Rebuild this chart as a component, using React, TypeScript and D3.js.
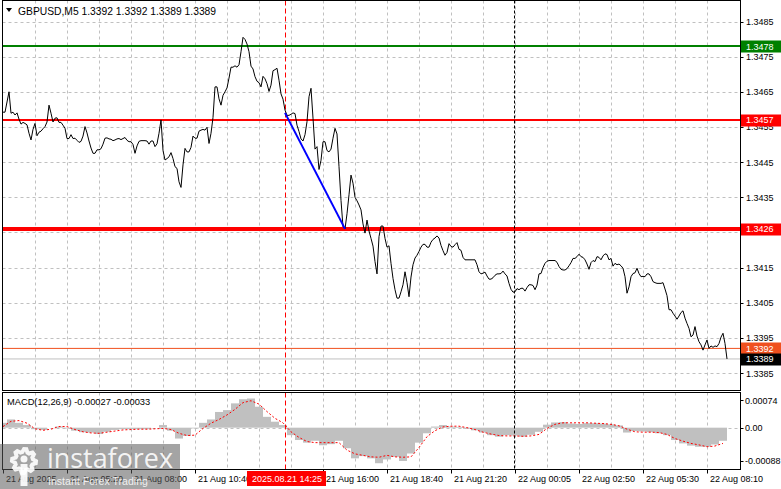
import React from 'react';
import * as d3 from 'd3';

// ---- DATA ----
const symbolTitle = 'GBPUSD,M5  1.3392 1.3392 1.3389 1.3389';
const macdTitle = 'MACD(12,26,9) -0.00027 -0.00033';

// close price per 5-minute bar
const closes = [
  1.34592, 1.34592, 1.34621, 1.34650, 1.34589, 1.34592, 1.34584, 1.34590, 1.34572, 1.34558,
  1.34563, 1.34560, 1.34556, 1.34532, 1.34513, 1.34543, 1.34560, 1.34525, 1.34535, 1.34538,
  1.34545, 1.34551, 1.34564, 1.34612, 1.34589, 1.34564, 1.34575, 1.34576, 1.34563, 1.34563,
  1.34555, 1.34546, 1.34517, 1.34517, 1.34528, 1.34517, 1.34518, 1.34512, 1.34506, 1.34509,
  1.34524, 1.34551, 1.34533, 1.34510, 1.34490, 1.34475, 1.34475, 1.34485, 1.34485, 1.34488,
  1.34501, 1.34518, 1.34519, 1.34516, 1.34515, 1.34511, 1.34513, 1.34516, 1.34517, 1.34514,
  1.34517, 1.34520, 1.34512, 1.34508, 1.34508, 1.34500, 1.34475, 1.34496, 1.34509, 1.34511,
  1.34511, 1.34511, 1.34510, 1.34501, 1.34510, 1.34510, 1.34494, 1.34502, 1.34532, 1.34570,
  1.34483, 1.34456, 1.34460, 1.34465, 1.34477, 1.34460, 1.34437, 1.34432, 1.34394, 1.34378,
  1.34442, 1.34489, 1.34479, 1.34479, 1.34492, 1.34524, 1.34518, 1.34518, 1.34538, 1.34541,
  1.34543, 1.34541, 1.34549, 1.34503, 1.34532, 1.34577, 1.34664, 1.34664, 1.34630, 1.34612,
  1.34640, 1.34650, 1.34661, 1.34689, 1.34720, 1.34720, 1.34724, 1.34720, 1.34727, 1.34764,
  1.34805, 1.34799, 1.34786, 1.34764, 1.34723, 1.34715, 1.34693, 1.34680, 1.34676, 1.34664,
  1.34694, 1.34687, 1.34673, 1.34651, 1.34669, 1.34710, 1.34713, 1.34717, 1.34683, 1.34644,
  1.34629, 1.34598, 1.34583, 1.34583, 1.34586, 1.34590, 1.34588, 1.34555, 1.34537, 1.34516,
  1.34510, 1.34528, 1.34565, 1.34636, 1.34660, 1.34575, 1.34487, 1.34494, 1.34429, 1.34455,
  1.34508, 1.34508, 1.34483, 1.34479, 1.34487, 1.34518, 1.34546, 1.34530, 1.34437, 1.34341,
  1.34266, 1.34260, 1.34303, 1.34357, 1.34413, 1.34390, 1.34350, 1.34340, 1.34328, 1.34314,
  1.34274, 1.34248, 1.34285, 1.34254, 1.34233, 1.34211, 1.34167, 1.34132, 1.34238, 1.34268,
  1.34268, 1.34233, 1.34208, 1.34212, 1.34162, 1.34119, 1.34087, 1.34063, 1.34063, 1.34081,
  1.34101, 1.34138, 1.34107, 1.34067, 1.34123, 1.34158, 1.34177, 1.34185, 1.34196, 1.34208,
  1.34216, 1.34216, 1.34208, 1.34208, 1.34222, 1.34230, 1.34234, 1.34240, 1.34234, 1.34213,
  1.34198, 1.34185, 1.34193, 1.34218, 1.34210, 1.34208, 1.34215, 1.34221, 1.34202, 1.34199,
  1.34179, 1.34172, 1.34172, 1.34172, 1.34172, 1.34172, 1.34172, 1.34158, 1.34138, 1.34132,
  1.34134, 1.34137, 1.34126, 1.34117, 1.34117, 1.34121, 1.34128, 1.34132, 1.34132, 1.34133,
  1.34140, 1.34132, 1.34126, 1.34105, 1.34088, 1.34080, 1.34081, 1.34090, 1.34087, 1.34091,
  1.34091, 1.34083, 1.34093, 1.34101, 1.34101, 1.34099, 1.34087, 1.34100, 1.34132, 1.34133,
  1.34150, 1.34162, 1.34168, 1.34170, 1.34170, 1.34170, 1.34170, 1.34165, 1.34153, 1.34145,
  1.34143, 1.34143, 1.34147, 1.34155, 1.34164, 1.34176, 1.34176, 1.34181, 1.34188, 1.34181,
  1.34179, 1.34172, 1.34160, 1.34145, 1.34164, 1.34170, 1.34167, 1.34181, 1.34179, 1.34172,
  1.34183, 1.34189, 1.34187, 1.34172, 1.34176, 1.34154, 1.34162, 1.34158, 1.34160, 1.34155,
  1.34148, 1.34124, 1.34077, 1.34095, 1.34124, 1.34133, 1.34135, 1.34148, 1.34133, 1.34124,
  1.34125, 1.34124, 1.34132, 1.34132, 1.34124, 1.34110, 1.34107, 1.34105, 1.34105, 1.34105,
  1.34107, 1.34089, 1.34070, 1.34030, 1.34030, 1.34020, 1.34012, 1.34003, 1.34012, 1.34022,
  1.34027, 1.34006, 1.33991, 1.33977, 1.33953, 1.33958, 1.33982, 1.33955, 1.33939, 1.33930,
  1.33915, 1.33930, 1.33944, 1.33920, 1.33927, 1.33923, 1.33927, 1.33925, 1.33934, 1.33952,
  1.33963, 1.33934, 1.33890,
];

// MACD main (histogram) and signal, one value every 4 bars
const macdMain = [
  0.00013, 0.00022, 0.00013, 0.00007, -0.00004, -0.00006, 0.0, 0.00003, -0.00002, -0.00008,
  -0.00012, -0.00013, -0.00017, -0.00011, -0.00006, -0.00004, -0.00004, -0.00004, -0.00004, 0.0,
  0.00007, -0.00008, -0.00029, -0.00022, -0.00002, 0.00013, 0.00022, 0.00042, 0.00047, 0.00065,
  0.00076, 0.00078, 0.00056, 0.00029, 0.00016, 0.00007, -0.00020, -0.00033, -0.00040, -0.00035,
  -0.00047, -0.00044, -0.00035, -0.00055, -0.00082, -0.00076, -0.00082, -0.00095, -0.00085, -0.00078,
  -0.00089, -0.00069, -0.00040, -0.00015, 0.00003, 0.00007, 0.00003, 0.00002, -0.00003, -0.00007,
  -0.00013, -0.00020, -0.00024, -0.00020, -0.00021, -0.00024, -0.00019, -0.00011, 0.00008, 0.00014,
  0.00015, 0.00011, 0.00010, 0.00012, 0.00012, 0.00011, 0.00009, 0.00006, -0.00013, -0.00009,
  -0.00010, -0.00012, -0.00015, -0.00020, -0.00033, -0.00042, -0.00048, -0.00051, -0.00051, -0.00045,
  -0.00035,
];
const macdSignal = [
  0.00003, 0.00017, 0.00019, 0.00012, -0.00003, -0.00007, -0.00004, 0.00003, 0.00003, -0.00005,
  -0.00011, -0.00014, -0.00015, -0.00012, -0.00009, -0.00006, -0.00005, -0.00004, -0.00004, -0.00003,
  -0.00002, -0.00005, -0.00015, -0.00021, -0.00020, -0.00002, 0.00012, 0.00022, 0.00034, 0.00049,
  0.00067, 0.00072, 0.00063, 0.00043, 0.00025, 0.00013, -0.00011, -0.00026, -0.00037, -0.00040,
  -0.00040, -0.00040, -0.00040, -0.00060, -0.00070, -0.00074, -0.00078, -0.00079, -0.00074, -0.00078,
  -0.00079, -0.00078, -0.00053, -0.00024, -0.00008, 0.00002, 0.00004, 0.00004, 0.0, -0.00005,
  -0.00012, -0.00017, -0.00021, -0.00022, -0.00022, -0.00023, -0.00022, -0.00018, -0.00002, 0.00009,
  0.00013, 0.00013, 0.00013, 0.00013, 0.00012, 0.00011, 0.00009, 0.00005, -0.00004, -0.00011,
  -0.00012, -0.00012, -0.00013, -0.00018, -0.00029, -0.00036, -0.00042, -0.00046, -0.00051, -0.00049,
  -0.00042,
];
const macdStep = 4;

// grid levels (1.3425 label is hidden behind the 1.3426 marker in the original)
const priceTicks = [1.3485, 1.3475, 1.3465, 1.3455, 1.3445, 1.3435, 1.3425, 1.3415, 1.3405, 1.3395, 1.3385];
const priceTickLabels = ['1.3485', '1.3475', '1.3465', '1.3455', '1.3445', '1.3435', '', '1.3415', '1.3405', '1.3395', '1.3385'];
const macdTicks = [0.00074, 0.0, -0.00088];
const macdTickLabels = ['0.00074', '0.00', '-0.00088'];

const timeLabels = [
  '21 Aug 2025', '21 Aug 05:20', '21 Aug 08:00', '21 Aug 10:40', '21 Aug 16:00',
  '21 Aug 18:40', '21 Aug 21:20', '22 Aug 00:05', '22 Aug 02:50', '22 Aug 05:30', '22 Aug 08:10',
];
const timeLabelBars = [0, 32, 64, 96, 160, 192, 224, 256, 288, 320, 352];

const levelPrices = [1.3478, 1.3457, 1.3426, 1.3392, 1.3389];
const levelLabels = ['1.3478', '1.3457', '1.3426', '1.3392', '1.3389'];

const cursorBar = 141;
const cursorLabel = '2025.08.21 14:25';
const daySeparatorBar = 255.5;

const trendBars = [141, 171];
const trendPrices = [1.3459, 1.3426];

const brandName = 'instaforex';
const brandSlogan = 'Instant Forex Trading';

// ---- STYLE ----
const W = 781;
const H = 489;
const FONT = '"Liberation Sans", Arial, sans-serif';
const levelStyles = [
  { stroke: '#008000', width: 2, box: '#008000', text: '#ffffff' },
  { stroke: '#ff0000', width: 2, box: '#ff0000', text: '#ffffff' },
  { stroke: '#ff0000', width: 4, box: '#ff0000', text: '#ffffff' },
  { stroke: '#f0501e', width: 1, box: '#f0501e', text: '#ffffff' },
  { stroke: '#c0c0c0', width: 1, box: '#000000', text: '#ffffff' },
];

export default function App() {
  const left = 2.5;
  const right = 740.5;
  const mainTop = 0.5;
  const mainBottom = 390.5;
  const macdTop = 392.5;
  const macdBottom = 469.5;

  const x = d3.scaleLinear().domain([0, 362]).range([3, 727]);
  const y = d3.scaleLinear().domain([1.3385, 1.3485]).range([373, 21.5]);
  const ym = d3.scaleLinear().domain([-0.00088, 0.00074]).range([460.6, 400]);

  const priceLine = d3
    .line<number>()
    .x((_, i) => x(i))
    .y((d) => y(d))(closes) as string;

  const signalLine = d3
    .line<number>()
    .x((_, i) => x(i * macdStep))
    .y((d) => ym(d))(macdSignal) as string;

  const gridBars = d3.range(16, 362, 16);
  const barW = x(macdStep) - x(0);

  const snap = (v: number) => Math.round(v) + 0.5;

  // simple gear outline for the watermark icon
  const gear = (() => {
    const cx = 24, cy = 461, rO = 12, rI = 9, teeth = 8;
    const pts: [number, number][] = [];
    for (let k = 0; k < teeth * 4; k++) {
      const a = (k / (teeth * 4)) * Math.PI * 2;
      const r = Math.floor(k / 2) % 2 === 0 ? rO : rI;
      pts.push([cx + r * Math.cos(a), cy + r * Math.sin(a)]);
    }
    return d3.line()(pts) + 'Z';
  })();

  return (
    <svg width={W} height={H} style={{ display: 'block', position: 'absolute', left: 0, top: 0, background: '#fff' }}
      fontFamily={FONT} fontSize={9}>
      <rect x={0} y={0} width={W} height={H} fill="#ffffff" />
      <defs>
        <clipPath id="mainClip">
          <rect x={left} y={mainTop} width={right - left} height={mainBottom - mainTop} />
        </clipPath>
        <clipPath id="macdClip">
          <rect x={left} y={macdTop} width={right - left} height={macdBottom - macdTop} />
        </clipPath>
      </defs>

      {/* grid */}
      <g stroke="#c0c0c0" strokeWidth={1} strokeDasharray="3,3">
        {gridBars.map((b) => (
          <line key={'gv' + b} x1={snap(x(b))} x2={snap(x(b))} y1={mainTop} y2={mainBottom} />
        ))}
        {priceTicks.map((t) => (
          <line key={'gh' + t} x1={left} x2={right} y1={snap(y(t))} y2={snap(y(t))} />
        ))}
        {gridBars.map((b) => (
          <line key={'gvm' + b} x1={snap(x(b))} x2={snap(x(b))} y1={macdTop} y2={macdBottom} />
        ))}
        <line x1={left} x2={right} y1={snap(ym(0))} y2={snap(ym(0))} />
      </g>

      {/* MACD histogram + signal */}
      <g clipPath="url(#macdClip)">
        {macdMain.map((v, i) => (
          <rect key={'h' + i} x={x(i * macdStep) - barW / 2} width={barW}
            y={ym(Math.max(v, 0))} height={Math.abs(ym(v) - ym(0))} fill="#c0c0c0" />
        ))}
        <path d={signalLine} fill="none" stroke="#ff0000" strokeWidth={1} strokeDasharray="2,2" />
      </g>

      {/* level lines */}
      <g clipPath="url(#mainClip)">
        {levelPrices.map((p, i) => (
          <line key={'lv' + i} x1={left} x2={right} y1={y(p)} y2={y(p)}
            stroke={levelStyles[i].stroke} strokeWidth={levelStyles[i].width} />
        ))}
      </g>

      {/* vertical markers */}
      <line x1={snap(x(cursorBar))} x2={snap(x(cursorBar))} y1={mainTop} y2={macdBottom}
        stroke="#ff0000" strokeDasharray="5,3" />
      <line x1={snap(x(daySeparatorBar))} x2={snap(x(daySeparatorBar))} y1={mainTop} y2={macdBottom}
        stroke="#000000" strokeDasharray="3,2" />

      {/* price line + trend line */}
      <g clipPath="url(#mainClip)">
        <path d={priceLine} fill="none" stroke="#000" strokeWidth={1} />
        <line x1={x(trendBars[0])} y1={y(trendPrices[0])} x2={x(trendBars[1])} y2={y(trendPrices[1])}
          stroke="#0000ff" strokeWidth={2} />
      </g>

      {/* frames */}
      <g fill="none" stroke="#000" strokeWidth={1}>
        <rect x={left} y={mainTop} width={right - left} height={mainBottom - mainTop} />
        <rect x={left} y={macdTop} width={right - left} height={macdBottom - macdTop} />
      </g>

      {/* header */}
      <path d="M6,8 L12,8 L9,12 Z" fill="#000" />
      <text x={18} y={14.5} fill="#000" fontSize={10.3}>{symbolTitle}</text>
      <text x={7} y={405} fill="#000" fontSize={9.3}>{macdTitle}</text>

      {/* right price axis */}
      {priceTicks.map((t, i) => (
        <g key={'pt' + t}>
          <line x1={right} x2={right + 3} y1={snap(y(t))} y2={snap(y(t))} stroke="#000" />
          {priceTickLabels[i] && <text x={746} y={y(t) + 3.5} fill="#000">{priceTickLabels[i]}</text>}
        </g>
      ))}
      {macdTicks.map((t, i) => (
        <g key={'mt' + i}>
          <line x1={right} x2={right + 3} y1={snap(ym(t))} y2={snap(ym(t))} stroke="#000" />
          <text x={745} y={ym(t) + 3.5} fill="#000">{macdTickLabels[i]}</text>
        </g>
      ))}
      {levelPrices.map((p, i) => (
        <g key={'lb' + i}>
          <rect x={741} y={Math.round(y(p)) - 5.5} width={40} height={12} fill={levelStyles[i].box} />
          <text x={746} y={y(p) + 3.5} fill={levelStyles[i].text}>{levelLabels[i]}</text>
        </g>
      ))}

      {/* time axis */}
      {timeLabelBars.map((b, i) => (
        <g key={'tl' + i}>
          <line x1={snap(x(b))} x2={snap(x(b))} y1={macdBottom} y2={macdBottom + 4} stroke="#000" />
          <text x={x(b) + 3} y={482} fill="#000">{timeLabels[i]}</text>
        </g>
      ))}
      <rect x={x(cursorBar) - 38} y={471} width={79} height={15} fill="#ff0000" />
      <text x={x(cursorBar) + 2} y={482} fill="#fff" textAnchor="middle">{cursorLabel}</text>

      {/* watermark */}
      <g>
        <rect x={0} y={444} width={180} height={45} fill="#5a5a5a" fillOpacity={0.55} />
        <path d={gear} fill="none" stroke="#ffffff" strokeOpacity={0.9} strokeWidth={4} />
        <circle cx={24} cy={459} r={3.5} fill="#ffffff" fillOpacity={0.9} />
        <rect x={20.5} y={464} width={7} height={22} fill="#ffffff" fillOpacity={0.9} />
        <text x={47} y={468} fill="#ffffff" fillOpacity={0.9} fontSize={28}
          textLength={126} lengthAdjust="spacingAndGlyphs"
          fontFamily={'"Open Sans", "DejaVu Sans", sans-serif'}>{brandName}</text>
        <text x={48} y={485} fill="#ffffff" fillOpacity={0.85} fontSize={11}
          textLength={100} lengthAdjust="spacingAndGlyphs">{brandSlogan}</text>
      </g>
    </svg>
  );
}
